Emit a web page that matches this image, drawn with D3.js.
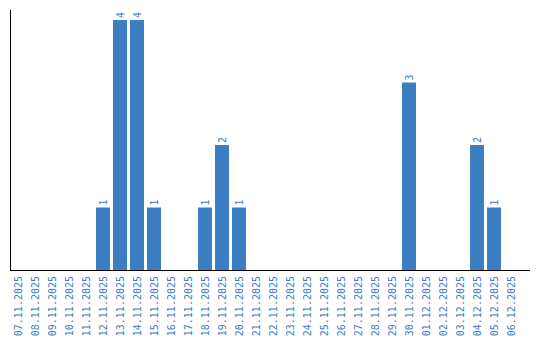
<!DOCTYPE html>
<html>
<head>
<meta charset="utf-8">
<script src="https://cdn.jsdelivr.net/npm/d3@7"></script>
<style>
  body { margin: 0; background: #fff; }
  text { font-family: "DejaVu Sans Mono", monospace; }
</style>
</head>
<body>
<div id="chart"></div>
<script>
// Tage und Anzahl je Tag
var days = ["07.11.2025","08.11.2025","09.11.2025","10.11.2025","11.11.2025","12.11.2025",
  "13.11.2025","14.11.2025","15.11.2025","16.11.2025","17.11.2025","18.11.2025",
  "19.11.2025","20.11.2025","21.11.2025","22.11.2025","23.11.2025","24.11.2025",
  "25.11.2025","26.11.2025","27.11.2025","28.11.2025","29.11.2025","30.11.2025",
  "01.12.2025","02.12.2025","03.12.2025","04.12.2025","05.12.2025","06.12.2025"];
var counts = [0,0,0,0,0,1, 4,4,1,0,0,1, 2,1,0,0,0,0, 0,0,0,0,0,3, 0,0,0,2,1,0];

var w = 540, h = 340;
var blue = "#3b7ec4";

var svg = d3.select("div#chart")
  .append("svg")
  .attr("width", w)
  .attr("height", h);

var x = d3.scaleBand()
  .domain(days)
  .range([9.5, 519.5])
  .paddingInner(0.18)
  .paddingOuter(0.09);

var y = d3.scaleLinear()
  .domain([0, 4])
  .range([270, 20]);

var data = days.map(function(d, i) { return {day: d, n: counts[i]}; });

// Balken
svg.selectAll("rect.bar")
  .data(data.filter(function(d) { return d.n > 0; }))
  .enter()
  .append("rect")
  .classed("bar", true)
  .attr("x", function(d) { return x(d.day); })
  .attr("y", function(d) { return y(d.n); })
  .attr("width", x.bandwidth())
  .attr("height", function(d) { return y(0) - y(d.n); })
  .attr("fill", blue);

// Werte ueber den Balken (gedreht)
svg.selectAll("text.val")
  .data(data.filter(function(d) { return d.n > 0; }))
  .enter()
  .append("text")
  .classed("val", true)
  .attr("transform", function(d) {
    return "translate(" + (x(d.day) + x.bandwidth()/2) + "," + (y(d.n) - 2) + ") rotate(-90)";
  })
  .attr("dy", "0.35em")
  .attr("text-anchor", "start")
  .attr("font-size", 10)
  .attr("fill", blue)
  .text(function(d) { return d.n; });

// x-Achse
var xAxis = svg.append("g")
  .attr("transform", "translate(0,270)")
  .call(d3.axisBottom(x).tickSize(0).tickPadding(0));
xAxis.select(".domain").remove();
xAxis.selectAll("text")
  .attr("transform", "translate(0,6) rotate(-90)")
  .attr("text-anchor", "end")
  .attr("x", 0)
  .attr("y", 0)
  .attr("dy", "0.35em")
  .attr("font-size", 10)
  .attr("font-family", "DejaVu Sans Mono, monospace")
  .attr("fill", blue);

svg.append("line")
  .attr("x1", 10).attr("x2", 530)
  .attr("y1", 270.5).attr("y2", 270.5)
  .attr("stroke", "#000");

// y-Achse (nur Linie)
svg.append("line")
  .attr("x1", 10.5).attr("x2", 10.5)
  .attr("y1", 10).attr("y2", 271)
  .attr("stroke", "#000");
</script>
</body>
</html>
